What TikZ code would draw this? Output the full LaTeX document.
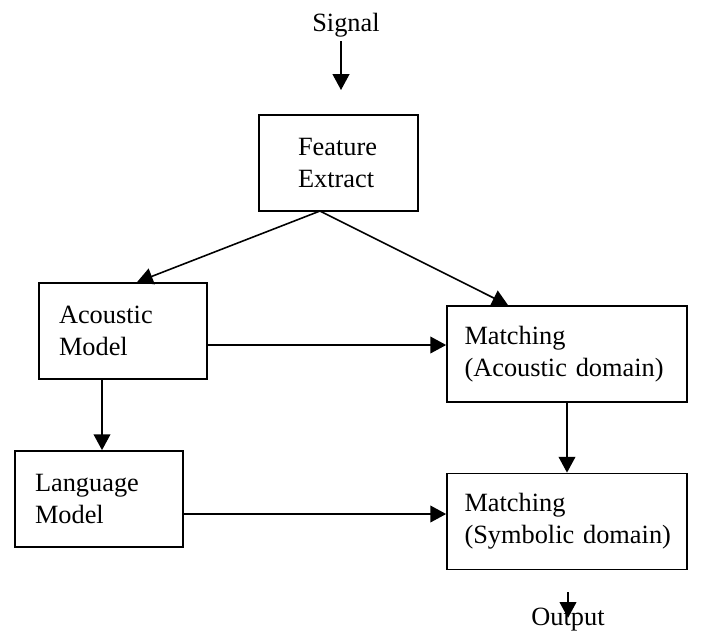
\documentclass[tikz,border=0pt]{standalone}
\usepackage{fontspec}
\setmainfont{Liberation Serif}
\usetikzlibrary{arrows.meta}

\tikzset{blok/.style={draw, line width=1pt, align=left, minimum height=1.92cm, inner xsep=0.4cm}}

\begin{document}
\begin{tikzpicture}[x=0.02cm, y=-0.02cm, >={Triangle[length=9pt,width=9.5pt]}, line width=0.9pt, font=\fontsize{15}{18.3}\selectfont]
\useasboundingbox (0,0) rectangle (716,637);
\node [anchor=base,name=signal] at (346,31) {Signal};
\node [blok,text width=1.62cm,inner xsep=0.78cm,name=feature] at (338.5,163) {Feature\\Extract};
\node [blok,text width=2.56cm,name=acmodel] at (123,331) {Acoustic\\Model};
\node [blok,text width=2.56cm,name=langmodel] at (99,499) {Language\\Model};
\node [blok,text width=4.1cm,inner xsep=0.35cm,name=matchac] at (567,354) {Matching\\\mbox{(Acoustic domain)}};
\node [blok,text width=4.1cm,inner xsep=0.35cm,name=matchsy] at (567,521.5) {Matching\\\mbox{(Symbolic domain)}};
\node [anchor=base,name=output] at (568,625) {Output};

\coordinate (sigend) at (341,90);
\coordinate (fsplit) at (320,211);
\coordinate (acout) at ([yshift=-0.28cm]acmodel.east);
\coordinate (lmout) at ([yshift=-0.3cm]langmodel.east);
\coordinate (acdown) at ([xshift=-0.42cm]acmodel.south);
\coordinate (outbeg) at (568,592);

\draw [->] (signal.south -| sigend) ++(0,-2) -- (sigend);
\draw [->] (fsplit) -- ([xshift=0.28cm]acmodel.north);
\draw [->] (fsplit) -- ([xshift=-1.18cm]matchac.north);
\draw [->] (acout) -- (acout -| matchac.west);
\draw [->] (lmout) -- (lmout -| matchsy.west);
\draw [->] (acdown) -- (acdown |- langmodel.north);
\draw [->] (matchac) -- (matchsy);
\draw [->] (outbeg) -- ([yshift=-0.34cm]output.north);
\end{tikzpicture}
\end{document}
